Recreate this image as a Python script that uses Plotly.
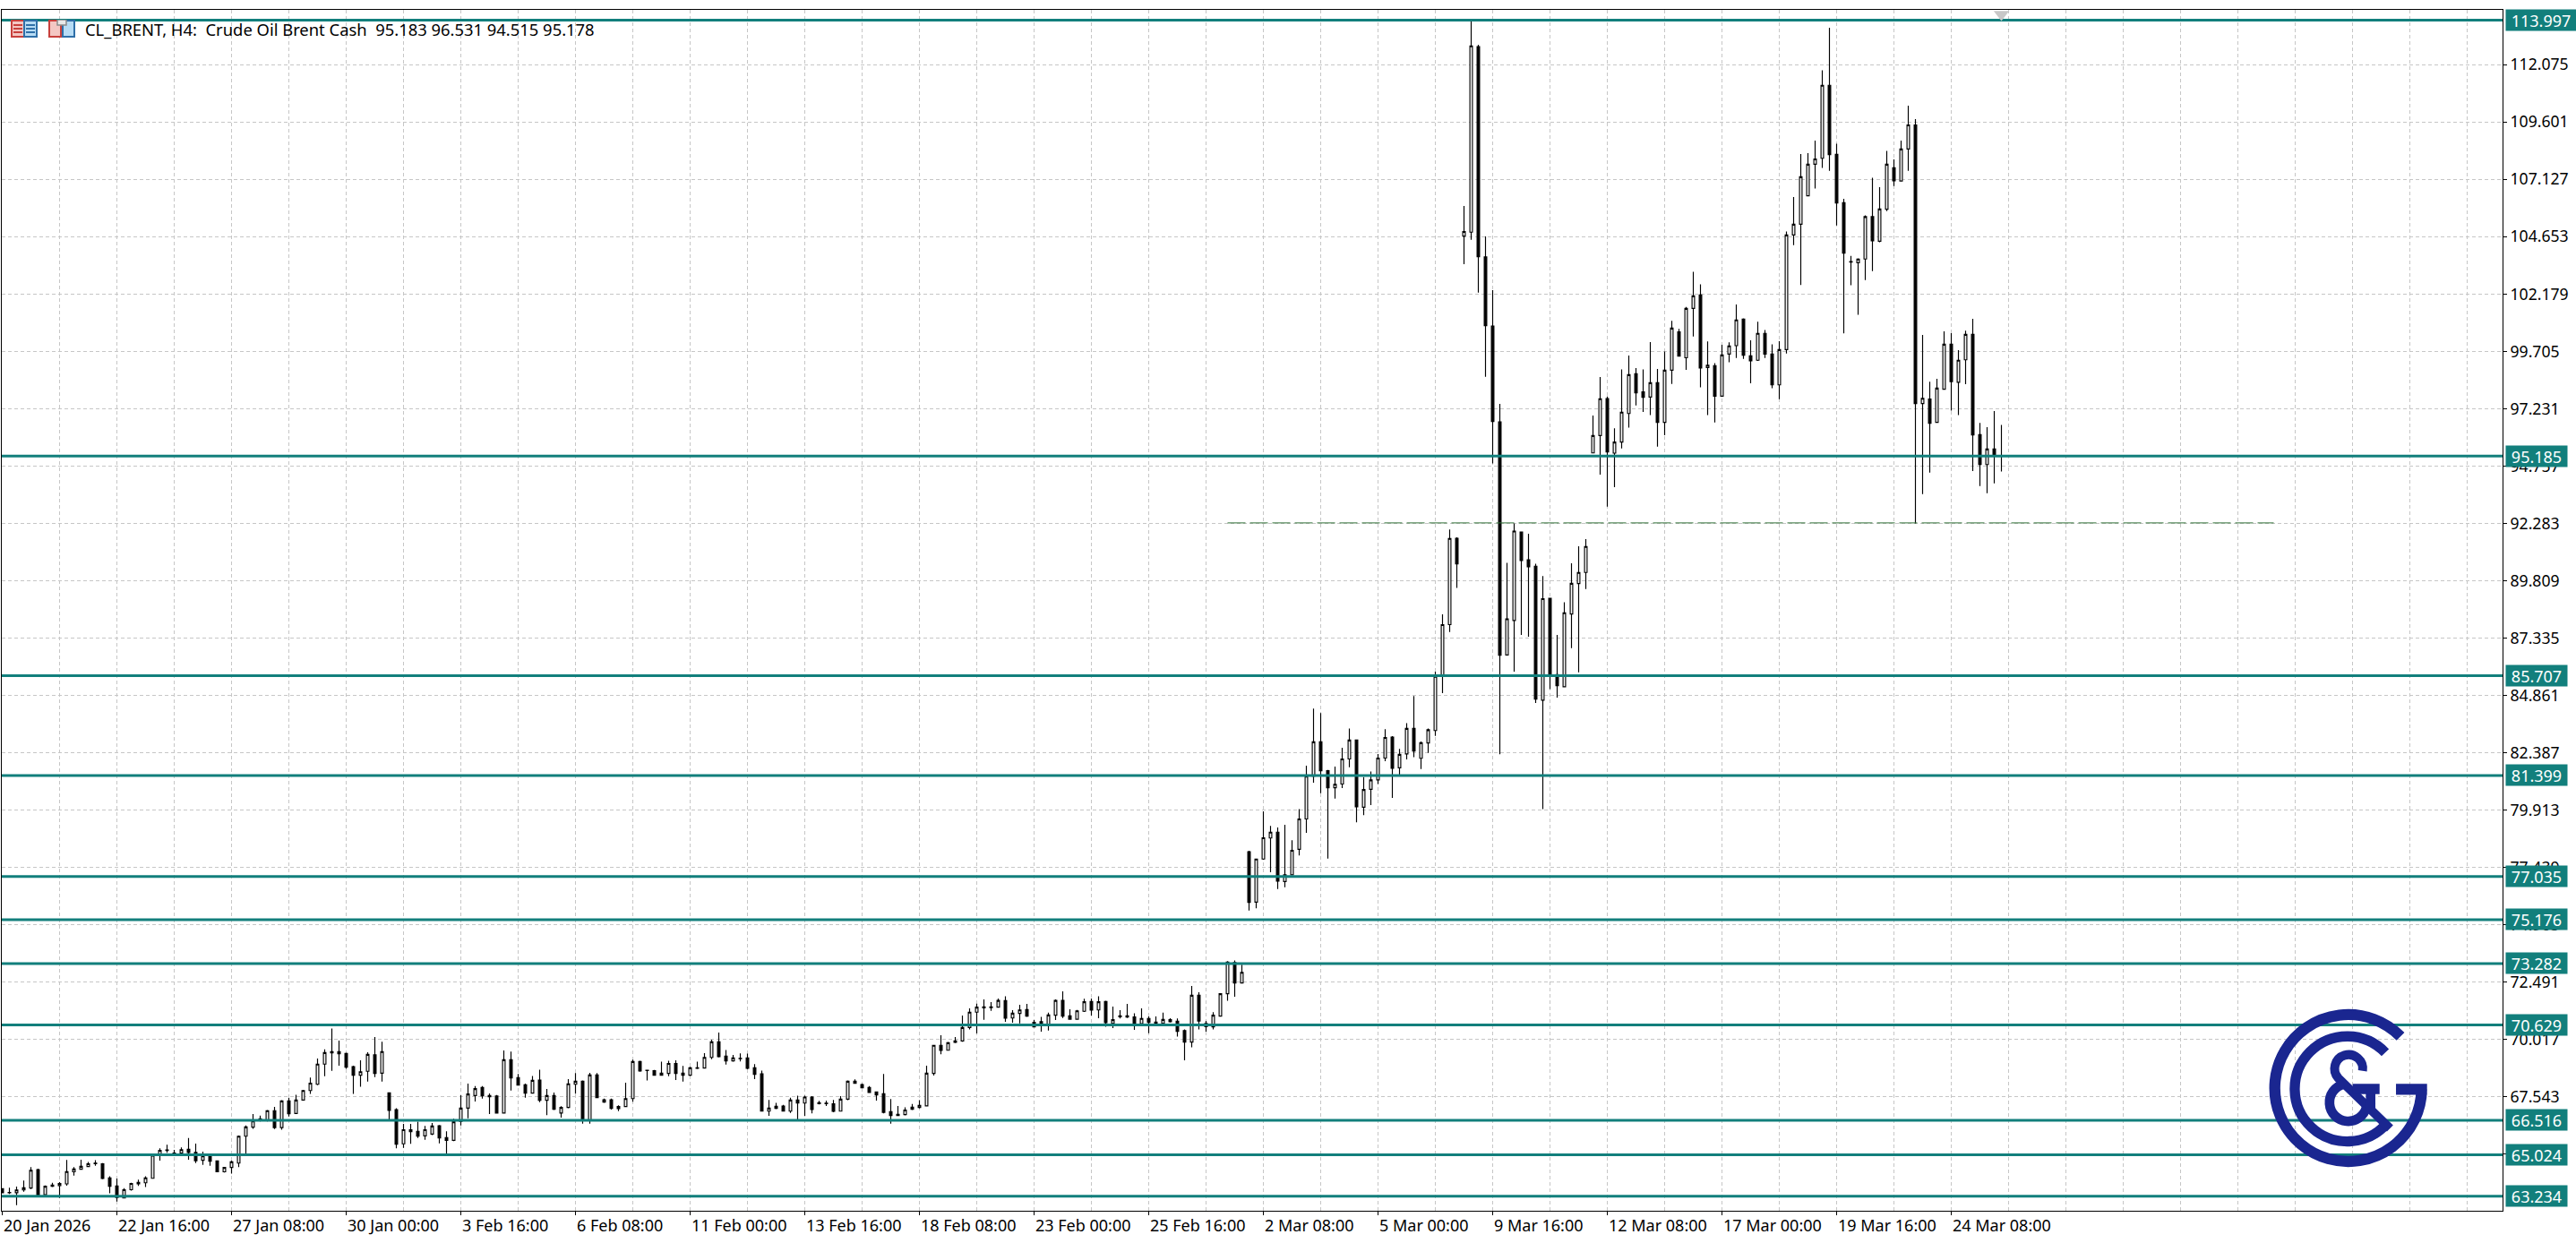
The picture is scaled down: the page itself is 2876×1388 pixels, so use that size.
import base64
import plotly.graph_objects as go

opens = [
63.56,63.40,63.39,63.51,63.59,64.39,63.30,63.72,63.70,63.77,
64.29,64.40,64.52,64.67,64.64,64.03,63.68,63.16,63.52,63.83,
63.82,64.01,65.01,65.21,65.10,65.10,65.26,65.13,64.79,64.98,
64.76,64.29,64.48,64.67,65.83,66.22,66.58,66.53,66.93,66.20,
67.35,66.81,67.39,67.80,68.07,68.94,69.48,69.48,69.40,68.83,
68.46,68.63,69.34,68.55,67.70,66.98,65.50,66.11,66.04,65.84,
65.92,66.28,65.77,65.65,66.47,67.04,67.58,67.93,67.58,67.56,
66.83,69.13,68.36,68.05,67.69,68.25,67.38,67.58,66.83,67.07,
68.07,68.20,66.50,68.47,67.30,67.40,67.02,67.11,67.45,69.05,
68.68,68.66,68.46,68.54,68.97,68.55,68.46,68.76,68.77,69.23,
69.90,69.28,69.08,69.19,69.21,68.78,68.52,66.91,67.03,67.13,
66.91,67.39,67.26,67.52,67.23,67.26,67.23,66.91,67.43,68.20,
68.06,67.93,67.74,67.66,66.89,66.77,66.76,66.99,67.07,67.14,
68.54,69.75,69.54,69.94,69.94,70.52,71.18,71.41,71.38,71.40,
71.68,70.93,71.13,71.29,70.55,70.77,70.67,71.05,71.69,71.02,
70.88,71.22,71.64,71.28,71.64,70.70,70.98,71.02,70.98,70.69,
70.91,70.75,70.70,70.86,70.79,70.39,69.89,71.91,70.70,70.55,
71.01,71.98,73.32,72.44,78.11,75.93,77.79,78.70,78.95,76.82,
77.11,78.21,79.52,81.37,82.85,81.61,80.87,81.03,82.11,82.93,
80.03,80.80,81.21,82.15,83.06,81.73,82.33,83.43,82.14,82.80,
83.34,85.71,87.91,91.64,104.68,104.85,112.86,103.78,100.80,96.66,
86.60,88.09,91.91,90.71,90.43,84.65,89.05,85.75,85.23,88.37,
89.68,90.16,95.32,96.07,97.67,95.31,95.79,97.02,98.74,97.96,
97.73,98.35,96.64,98.89,100.55,99.43,101.56,102.14,99.01,99.09,
97.77,99.59,99.95,101.10,99.51,99.32,100.48,99.59,98.26,99.78,
104.73,105.19,106.42,107.78,108.04,111.19,108.21,106.12,103.58,103.53,
103.69,105.52,104.46,105.84,107.63,107.06,108.44,109.48,97.45,97.65,
96.64,98.07,100.01,98.37,99.34,100.44,96.11,94.82,95.49,95.183]

highs = [
63.59,63.61,63.65,63.91,64.49,64.43,63.70,63.82,63.85,64.80,
64.49,64.81,64.72,64.79,64.67,64.10,64.00,63.59,63.82,63.95,
64.10,65.03,65.31,65.46,65.24,65.34,65.75,65.51,65.16,65.03,
64.77,64.50,64.77,65.86,66.29,66.78,66.72,66.96,67.09,67.38,
67.48,67.62,67.83,68.36,69.18,69.58,70.48,69.95,69.43,68.87,
69.10,69.45,70.11,69.91,67.71,67.04,66.36,66.36,66.46,66.27,
66.40,66.31,66.04,66.58,67.60,68.10,67.99,67.99,67.67,67.61,
69.53,69.48,68.51,68.10,68.43,68.70,67.87,67.71,67.12,68.29,
68.55,68.23,68.56,68.55,67.45,67.45,67.16,68.14,69.13,69.08,
68.70,68.69,69.05,69.08,69.10,68.86,68.82,69.05,69.41,69.99,
70.30,69.55,69.34,69.40,69.39,68.94,68.66,67.39,67.27,67.18,
67.49,67.58,67.58,67.56,67.35,67.36,67.39,67.56,68.23,68.28,
68.10,67.99,67.76,68.51,67.43,67.13,67.07,67.22,67.38,68.87,
69.77,70.19,69.90,70.11,71.04,71.35,71.55,71.73,71.62,71.77,
71.87,71.27,71.50,71.54,70.84,70.98,71.16,71.73,72.08,71.31,
71.28,71.76,71.77,71.87,71.67,71.42,71.27,71.54,71.13,71.35,
71.00,71.00,71.16,70.92,70.91,70.44,72.31,72.04,70.80,71.18,
72.00,73.38,73.41,73.23,78.15,77.79,79.85,79.22,79.15,79.27,
78.60,79.95,81.82,84.29,84.09,81.64,81.78,82.59,83.43,82.94,
81.33,81.57,82.32,83.40,83.10,82.55,83.66,84.83,82.86,83.43,
85.88,88.35,92.02,91.68,105.98,113.99,112.94,104.67,102.35,97.44,
90.58,92.28,91.93,91.83,90.54,90.01,89.05,87.46,88.88,90.56,
91.29,91.60,96.93,98.60,97.76,96.38,98.93,99.52,98.98,98.93,
100.10,98.94,99.70,101.02,100.67,101.62,103.14,102.60,100.13,99.20,
99.99,100.09,101.73,101.13,100.18,100.98,100.63,100.01,100.14,104.88,
106.37,108.22,108.26,108.80,111.84,113.67,108.67,106.29,103.82,103.72,
105.57,107.20,106.79,108.36,107.99,108.80,110.31,109.73,100.41,98.39,
98.52,100.57,100.49,99.76,100.60,101.11,96.62,96.43,97.13,96.531]

lows = [
63.36,63.33,62.85,63.43,63.55,63.25,63.28,63.63,63.16,63.69,
64.13,64.39,64.49,64.55,63.97,63.36,63.01,63.14,63.48,63.68,
63.63,64.00,64.77,65.11,65.01,65.06,64.81,64.67,64.59,64.55,
64.27,64.26,64.21,64.49,65.08,66.15,66.47,66.47,66.14,66.11,
66.68,66.78,67.36,67.65,68.03,68.42,68.65,68.87,68.74,67.65,
67.96,68.19,68.38,68.19,66.53,65.31,65.33,65.50,65.75,65.67,
65.88,65.52,65.08,65.62,66.29,66.60,67.33,67.45,66.78,66.82,
66.82,67.80,68.01,67.49,67.66,67.30,66.74,66.96,66.63,67.04,
67.66,66.37,66.37,67.48,67.27,66.98,66.91,67.09,67.32,68.61,
68.23,68.45,68.45,68.42,68.25,68.19,68.43,68.73,68.76,69.15,
69.23,68.92,69.05,69.06,68.72,68.29,66.89,66.71,67.00,66.89,
66.83,66.55,66.71,66.81,67.20,67.13,66.86,66.89,67.38,68.10,
67.90,67.70,67.36,66.81,66.37,66.71,66.73,66.96,67.03,67.12,
68.45,69.36,69.52,69.85,69.91,70.44,70.26,70.85,71.24,71.37,
70.77,70.73,70.70,70.98,70.52,70.34,70.39,70.84,70.93,70.85,
70.85,71.19,71.04,70.92,70.55,70.50,70.91,70.93,70.42,70.65,
70.27,70.60,70.67,70.74,70.13,69.10,69.66,70.44,70.34,70.44,
71.01,71.67,71.85,72.43,75.57,75.67,77.76,77.22,76.50,76.57,
77.09,77.95,78.92,81.09,80.63,77.81,80.40,80.85,81.75,79.38,
79.69,80.12,81.03,82.01,80.43,81.39,82.09,82.19,81.68,82.37,
83.11,84.95,87.59,89.49,103.47,104.52,102.24,98.61,94.87,82.31,
86.59,85.88,87.46,87.39,84.53,79.95,85.13,84.76,85.23,86.89,
85.85,89.45,95.31,94.38,93.00,93.84,95.51,96.41,97.37,97.09,
96.95,95.59,96.08,98.30,99.49,98.91,100.35,98.15,96.95,96.64,
97.76,99.23,99.42,99.38,98.33,99.29,99.42,98.11,97.64,99.61,
104.29,102.57,106.40,106.73,107.62,107.50,105.14,100.48,102.56,101.28,
102.78,103.17,104.41,105.76,106.84,107.04,107.50,92.28,93.54,94.47,
96.62,98.05,97.15,96.95,98.29,94.54,93.89,93.58,94.01,94.515]

closes = [
63.39,63.39,63.51,63.60,64.36,63.25,63.67,63.67,63.79,64.30,
64.41,64.53,64.64,64.64,64.00,63.67,63.18,63.52,63.79,63.77,
64.03,65.01,65.22,65.24,65.07,65.25,65.13,64.77,64.98,64.75,
64.29,64.48,64.72,65.83,66.23,66.49,66.50,66.93,66.20,67.35,
66.80,67.39,67.80,68.12,68.94,69.44,69.43,69.39,68.81,68.46,
68.61,69.36,68.54,69.48,66.94,65.48,66.11,66.02,65.83,66.11,
66.27,65.75,65.65,66.45,67.04,67.65,67.88,67.57,67.53,66.83,
69.13,68.34,68.03,67.69,68.24,67.38,67.58,66.99,67.07,68.09,
68.20,66.50,68.47,67.49,67.40,67.03,67.11,67.45,69.05,68.64,
68.66,68.46,68.55,68.97,68.54,68.46,68.78,68.78,69.23,69.90,
69.26,69.08,69.21,69.17,68.76,68.50,66.91,67.04,67.12,66.91,
67.39,67.26,67.52,66.98,67.27,67.23,66.90,67.43,68.20,68.11,
67.92,67.72,67.61,66.86,66.72,66.72,66.96,67.08,67.16,68.55,
69.75,69.53,69.86,69.88,70.52,71.18,71.40,71.37,71.41,71.69,
70.92,71.14,71.28,71.01,70.74,70.70,71.06,71.69,71.01,70.88,
71.24,71.63,71.27,71.63,70.73,70.86,71.02,70.97,70.70,70.91,
70.74,70.70,70.87,70.77,70.35,69.89,71.91,70.80,70.56,71.05,
71.98,73.34,72.44,72.90,75.92,77.79,78.71,78.95,76.84,77.11,
78.17,79.52,81.37,82.85,81.60,80.87,81.02,82.11,82.93,80.05,
80.79,81.21,82.15,83.04,81.71,82.31,83.43,82.45,82.81,83.37,
85.68,87.91,91.63,90.53,104.88,112.89,103.79,100.81,96.68,86.59,
88.16,91.95,90.68,90.41,84.69,89.03,85.75,85.27,88.42,89.69,
90.16,91.28,96.07,97.66,95.36,95.79,97.08,98.70,97.91,97.72,
98.35,96.64,98.89,100.71,99.50,101.56,102.10,98.99,99.11,97.77,
99.55,99.94,101.06,99.54,99.30,100.48,99.59,98.26,99.78,104.73,
105.19,107.24,107.78,108.01,111.19,108.20,106.11,103.94,103.56,103.69,
105.52,104.48,105.85,107.78,107.07,108.44,109.48,97.45,97.68,96.60,
98.12,100.01,98.40,99.32,100.44,96.10,94.82,95.49,95.18,95.178]

time_labels = ["20 Jan 2026","22 Jan 16:00","27 Jan 08:00","30 Jan 00:00","3 Feb 16:00","6 Feb 08:00",
               "11 Feb 00:00","13 Feb 16:00","18 Feb 08:00","23 Feb 00:00","25 Feb 16:00","2 Mar 08:00",
               "5 Mar 00:00","9 Mar 16:00","12 Mar 08:00","17 Mar 00:00","19 Mar 16:00","24 Mar 08:00"]
price_ticks = [112.075,109.601,107.127,104.653,102.179,99.705,97.231,94.757,92.283,89.809,87.335,
               84.861,82.387,79.913,77.439,74.965,72.491,70.017,67.543,65.069]
levels = [113.997,95.185,85.707,81.399,77.035,75.176,73.282,70.629,66.516,65.024,63.234]
dashed_level = 92.30
dashed_span = [171, 317]
header_text = "CL_BRENT, H4:  Crude Oil Brent Cash  95.183 96.531 94.515 95.178"

W, H = 2876, 1388
L, R, T, B = 2, 2794, 11, 1352
FONT = "Noto Sans"
TEAL = "#127f7c"
BARS = list(range(len(opens)))
x_step = 8
x_range = [(L - 2.5) / x_step, (R - 2.5) / x_step]
y_range = [62.61, 114.445]

def px(x):
    return (x - L) / (R - L)
def py(y):
    return 1 - (y - T) / (B - T)
def svg_uri(svg):
    return "data:image/svg+xml;base64," + base64.b64encode(svg.encode()).decode()

fig = go.Figure()
fig.add_trace(go.Candlestick(
    x=BARS, open=opens, high=highs, low=lows, close=closes,
    increasing=dict(line=dict(color="#000000", width=1.15), fillcolor="#ffffff"),
    decreasing=dict(line=dict(color="#000000", width=1.15), fillcolor="#000000"),
    whiskerwidth=0, showlegend=False, hoverinfo="skip"))
fig.add_trace(go.Scatter(x=dashed_span, y=[dashed_level, dashed_level], mode="lines",
                         line=dict(color="#2e6e35", width=1, dash="20px,5px"),
                         showlegend=False, hoverinfo="skip"))
for lv in levels:
    fig.add_trace(go.Scatter(x=x_range, y=[lv, lv], mode="lines",
                             line=dict(color=TEAL, width=3),
                             showlegend=False, hoverinfo="skip"))
fig.add_trace(go.Scatter(x=[BARS[-1]], y=[114.25], mode="markers",
                         marker=dict(symbol="triangle-down", size=15, color="#c8c8c8"),
                         showlegend=False, hoverinfo="skip", cliponaxis=False))

annotations = []
for i, t in enumerate(time_labels):
    annotations.append(dict(x=i * 16, y=py(1368), xref="x", yref="paper", text=t, showarrow=False,
                            xanchor="left", yanchor="middle", xshift=-1,
                            font=dict(family=FONT, size=18, color="#000000")))
for lv in levels:
    annotations.append(dict(x=1, y=lv, xref="paper", yref="y", text=f"{lv:.3f}", showarrow=False,
                            xanchor="left", yanchor="middle", xshift=3, align="center",
                            width=78 if lv == levels[0] else 68, height=23, borderpad=0,
                            bgcolor=TEAL, font=dict(family=FONT, size=18, color="#ffffff")))
annotations.append(dict(x=px(93), y=py(33), xref="paper", yref="paper", text=header_text.replace("  ", "&nbsp;&nbsp;"),
                        showarrow=False, xanchor="left", yanchor="middle",
                        font=dict(family=FONT, size=18.4, color="#000000")))

logo_svg = """<svg xmlns="http://www.w3.org/2000/svg" viewBox="140 660 570 570" width="570" height="570">
<g fill="none" stroke="#1a2690">
<path stroke-width="37" d="M 600 772 A 246 246 0 1 0 671 949 M 585 949 H 689"/>
<path stroke-width="34" d="M 549 826 A 176 176 0 1 0 553 1065"/>
<path stroke-width="30" d="M 473 887 A 47 47 0 1 0 392 912 L 565 1080"/>
<path stroke-width="32" d="M 410 932 A 63 63 0 1 0 486 1010 M 500 948 V 1020"/>
<path stroke-width="34" d="M 440 948 H 530"/>
</g></svg>"""
icon1_svg = """<svg xmlns="http://www.w3.org/2000/svg" viewBox="0 0 30 20" width="30" height="20">
<rect x="1" y="1" width="14" height="18" fill="#f4c7c3" stroke="#c8403c" stroke-width="2"/>
<rect x="15" y="1" width="14" height="18" fill="#b7dcf5" stroke="#2f6fa8" stroke-width="2"/>
<path d="M3 6H13M3 10H13M3 14H13" stroke="#c8403c" stroke-width="2"/>
<path d="M17 6H27M17 10H27M17 14H27" stroke="#2f6fa8" stroke-width="2"/></svg>"""
icon2_svg = """<svg xmlns="http://www.w3.org/2000/svg" viewBox="0 0 30 20" width="30" height="20">
<rect x="1" y="1" width="13" height="18" fill="#f4c7c3" stroke="#c8403c" stroke-width="2"/>
<rect x="16" y="1" width="13" height="18" fill="#b7dcf5" stroke="#2f6fa8" stroke-width="2"/>
<rect x="10" y="0" width="10" height="6" fill="#e8e8e8" stroke="#8a8a8a" stroke-width="1.5"/></svg>"""

def image(svg, x, y, w, h):
    return dict(source=svg_uri(svg), xref="paper", yref="paper", x=px(x), y=py(y),
                sizex=w / (R - L), sizey=h / (B - T), xanchor="left", yanchor="top",
                sizing="stretch", layer="above")

grid = dict(gridcolor="#c6c6c6", griddash="4px,3px", gridwidth=1)
fig.update_layout(
    width=W, height=H, autosize=False,
    margin=dict(l=L, r=W - R, t=T, b=H - B, pad=0),
    paper_bgcolor="#ffffff", plot_bgcolor="#ffffff",
    showlegend=False, boxgap=0.5,
    font=dict(family=FONT, size=18, color="#000000"),
    annotations=annotations,
    images=[image(logo_svg, 2526.7, 1120, 190, 190),
            image(icon1_svg, 12, 22, 30, 20),
            image(icon2_svg, 54, 22, 30, 20)],
    xaxis=dict(range=x_range, rangeslider=dict(visible=False), tickmode="array",
               tickvals=[i * 16 for i in range(len(time_labels))],
               ticktext=[""] * len(time_labels), ticks="outside", ticklen=4, tickcolor="#000000",
               showline=True, linecolor="#000000", linewidth=1, mirror=True, zeroline=False,
               showgrid=True, **grid,
               minor=dict(tick0=0, dtick=8, showgrid=True, ticks="", **grid)),
    yaxis=dict(range=y_range, side="right", tickmode="array", tickvals=price_ticks,
               ticktext=[f"{v:.3f}" for v in price_ticks], ticks="outside", ticklen=4,
               tickcolor="#000000", showline=True, linecolor="#000000", linewidth=1, mirror=True,
               zeroline=False, showgrid=True, **grid,
               tickfont=dict(family=FONT, size=17.6, color="#000000")),
)
fig.write_html("out.html", config=dict(displayModeBar=False),
               post_script="document.body.style.margin='0';document.documentElement.style.overflow='hidden';")
